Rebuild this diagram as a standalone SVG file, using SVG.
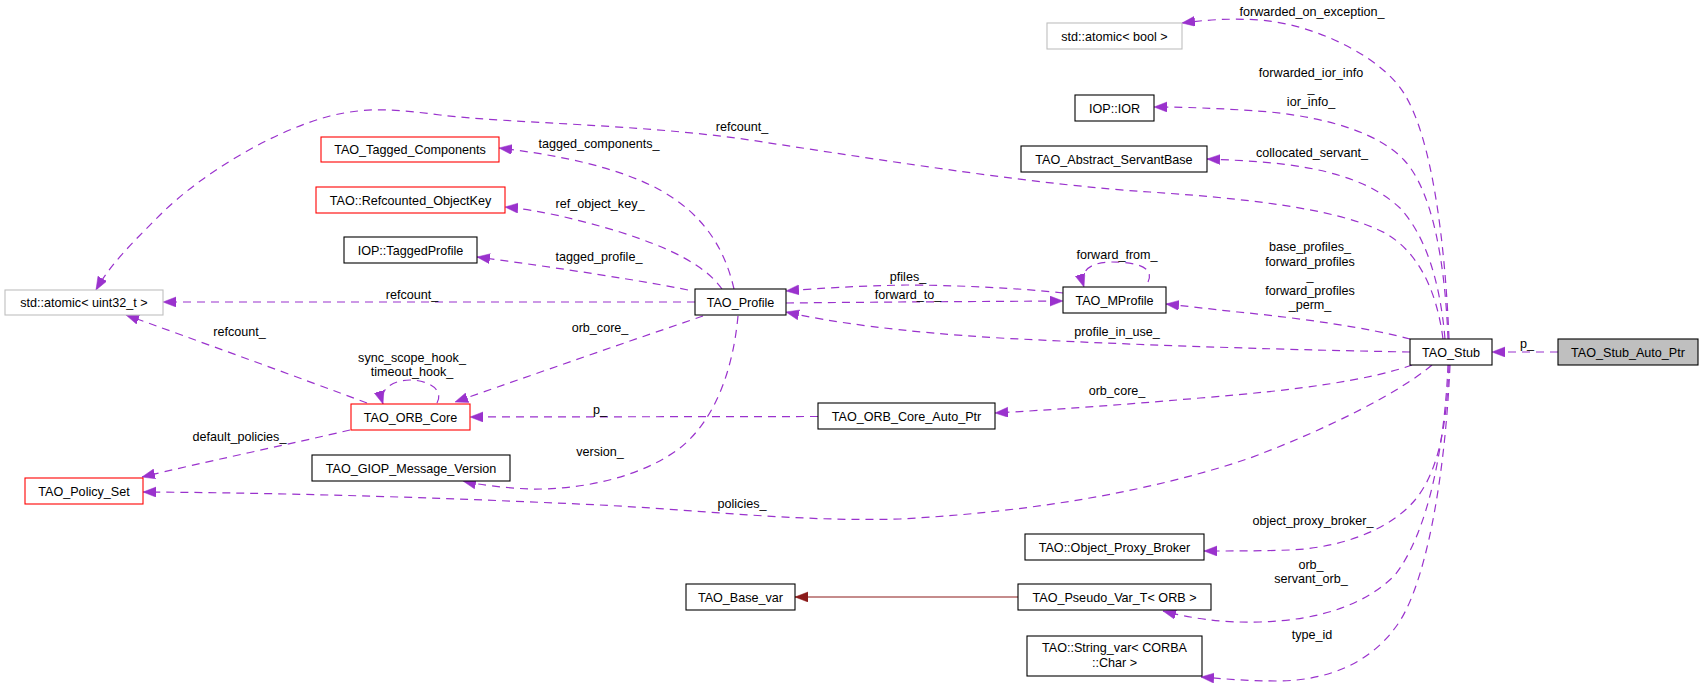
<svg xmlns="http://www.w3.org/2000/svg" width="1703" height="687" viewBox="0 0 1703 687">
<style>
text{font-family:"Liberation Sans",Arial,sans-serif;font-size:12.6px;fill:#000;text-anchor:middle}
.n rect{fill:#fff;stroke:#000;stroke-width:1.1}
.n.r rect{stroke:#ff0000}
.n.g rect{stroke:#bfbfbf}
.n.f rect{fill:#bfbfbf}
.e path{fill:none;stroke:#9a32cd;stroke-width:1.2;stroke-dasharray:8,6}
.e path.inh{stroke:#8b1a1a;stroke-dasharray:none}
.e path{marker-end:url(#ap)}
.e path.inh{marker-end:url(#ar)}
</style>
<defs>
<marker id="ap" markerUnits="userSpaceOnUse" markerWidth="14" markerHeight="11" refX="13" refY="5" orient="auto"><path d="M0,0 L13,5 L0,10 z" fill="#9a32cd" stroke="#9a32cd" stroke-width="0.5"/></marker>
<marker id="ar" markerUnits="userSpaceOnUse" markerWidth="14" markerHeight="11" refX="13" refY="5" orient="auto"><path d="M0,0 L13,5 L0,10 z" fill="#8b1a1a" stroke="#8b1a1a" stroke-width="0.5"/></marker>
</defs>
<rect width="1703" height="687" fill="#fff"/>
<g id="edges" class="e">
<path d="M1558,352 L1492,352"/>
<path d="M1449,339 C1445,240 1432,140 1405,95 C1385,60 1320,25 1260,20 C1230,18 1205,20 1182,23"/>
<path d="M1448,339 C1445,260 1432,190 1404,160 C1380,134 1330,118 1270,112 C1220,108 1180,107 1154,107"/>
<path d="M1445,339 C1440,280 1425,235 1400,208 C1375,185 1340,172 1290,165 C1260,161 1230,160 1207,159"/>
<path d="M1443,339 C1436,285 1415,250 1385,233 C1345,212 1270,200 1150,192 C1040,185 900,163 750,140 C640,124 520,124 440,115 C400,110 370,106 330,116 C270,132 200,175 160,215 C130,245 110,265 96,290"/>
<path d="M1410,339 C1370,328 1300,318 1238,312 C1210,309 1185,306 1166,304"/>
<path d="M1410,352 C1300,350 1150,346 1000,338 C900,332 830,322 786,312"/>
<path d="M1412,365 C1370,380 1300,390 1200,398 C1120,405 1050,410 995,413"/>
<path d="M1432,365 C1400,392 1330,428 1250,458 C1150,492 1030,512 900,519 C800,522 700,510 600,505 C450,498 300,493 143,492"/>
<path d="M1449,365 C1447,420 1440,470 1415,500 C1390,530 1340,548 1290,550 C1260,551 1230,551 1204,551"/>
<path d="M1448,365 C1445,440 1430,530 1395,575 C1365,605 1320,620 1260,622 C1220,623 1190,618 1163,611"/>
<path d="M1450,365 C1445,480 1425,590 1395,628 C1370,662 1330,680 1280,681 C1250,681 1225,679 1201,677"/>
<path class="inh" d="M1018,597 L795,597"/>
<path d="M818,416.5 L470,417"/>
<path d="M1148,282 C1156,265 1130,262 1112,262 C1095,262 1078,268 1084,287"/>
<path d="M1063,293 C1020,288 950,285 906,285 C860,286 820,288 786,291"/>
<path d="M786,303 C880,302 980,301.5 1063,301"/>
<path d="M734,289 C725,250 705,215 660,190 C620,168 560,155 499,148"/>
<path d="M722,289 C705,265 670,248 620,232 C580,220 540,210 505,207"/>
<path d="M688,290 C650,282 560,268 477,257"/>
<path d="M695,302 L163,302"/>
<path d="M703,316 C650,334 520,379 455,402"/>
<path d="M738,316 C733,370 715,420 680,448 C640,478 580,490 530,489 C505,488 480,485 463,481"/>
<path d="M437,403 C445,388 425,380 410,380 C395,380 378,388 383,404"/>
<path d="M367,403 C300,378 190,338 126,315"/>
<path d="M350,430 C290,444 200,463 142,477"/>
</g>
<g id="edge-labels">
<text x="1527" y="348">p_</text>
<text x="1312" y="16">forwarded_on_exception_</text>
<text x="1311" y="77">forwarded_ior_info</text>
<text x="1311" y="91.6">_</text>
<text x="1311" y="106.2">ior_info_</text>
<text x="1312" y="157">collocated_servant_</text>
<text x="742" y="131">refcount_</text>
<text x="1310" y="251">base_profiles_</text>
<text x="1310" y="265.6">forward_profiles</text>
<text x="1310" y="280.2">_</text>
<text x="1310" y="294.8">forward_profiles</text>
<text x="1310" y="309.4">_perm_</text>
<text x="1117" y="336">profile_in_use_</text>
<text x="1117" y="395">orb_core_</text>
<text x="742" y="508">policies_</text>
<text x="1313" y="525">object_proxy_broker_</text>
<text x="1311" y="568.5">orb_</text>
<text x="1311" y="583">servant_orb_</text>
<text x="1312" y="639">type_id</text>
<text x="600" y="414">p_</text>
<text x="1117" y="259">forward_from_</text>
<text x="908" y="281">pfiles_</text>
<text x="908" y="299">forward_to_</text>
<text x="599" y="148">tagged_components_</text>
<text x="600" y="208">ref_object_key_</text>
<text x="599" y="261">tagged_profile_</text>
<text x="412" y="299">refcount_</text>
<text x="600" y="332">orb_core_</text>
<text x="600" y="456">version_</text>
<text x="412" y="361.5">sync_scope_hook_</text>
<text x="412" y="376">timeout_hook_</text>
<text x="239.5" y="336">refcount_</text>
<text x="239.5" y="441">default_policies_</text>
</g>
<g id="n-atomic-uint32" class="n g"><rect x="5" y="290" width="158" height="25"/><text x="84" y="307">std::atomic&lt; uint32_t &gt;</text></g>
<g id="n-tagged-components" class="n r"><rect x="321" y="137" width="178" height="25"/><text x="410" y="154">TAO_Tagged_Components</text></g>
<g id="n-refcounted-objectkey" class="n r"><rect x="316" y="187" width="189" height="26"/><text x="410.5" y="204.5">TAO::Refcounted_ObjectKey</text></g>
<g id="n-taggedprofile" class="n"><rect x="344" y="237" width="133" height="26"/><text x="410.5" y="254.5">IOP::TaggedProfile</text></g>
<g id="n-atomic-bool" class="n g"><rect x="1047" y="23" width="135" height="26"/><text x="1114.5" y="40.5">std::atomic&lt; bool &gt;</text></g>
<g id="n-ior" class="n"><rect x="1075" y="95" width="79" height="26"/><text x="1114.5" y="112.5">IOP::IOR</text></g>
<g id="n-abstract-servantbase" class="n"><rect x="1021" y="146" width="186" height="26"/><text x="1114" y="163.5">TAO_Abstract_ServantBase</text></g>
<g id="n-profile" class="n"><rect x="695" y="289" width="91" height="26"/><text x="740.5" y="306.5">TAO_Profile</text></g>
<g id="n-mprofile" class="n"><rect x="1063" y="287" width="103" height="26"/><text x="1114.5" y="304.5">TAO_MProfile</text></g>
<g id="n-stub" class="n"><rect x="1410" y="339" width="82" height="26"/><text x="1451" y="356.5">TAO_Stub</text></g>
<g id="n-stub-auto-ptr" class="n f"><rect x="1558" y="339" width="140" height="26"/><text x="1628" y="356.5">TAO_Stub_Auto_Ptr</text></g>
<g id="n-orb-core" class="n r"><rect x="351" y="404" width="119" height="26"/><text x="410.5" y="421.5">TAO_ORB_Core</text></g>
<g id="n-policy-set" class="n r"><rect x="25" y="478" width="118" height="26"/><text x="84" y="495.5">TAO_Policy_Set</text></g>
<g id="n-giop-version" class="n"><rect x="312" y="455" width="198" height="26"/><text x="411" y="472.5">TAO_GIOP_Message_Version</text></g>
<g id="n-orb-core-auto-ptr" class="n"><rect x="818" y="403" width="177" height="26"/><text x="906.5" y="420.5">TAO_ORB_Core_Auto_Ptr</text></g>
<g id="n-object-proxy-broker" class="n"><rect x="1025" y="534" width="179" height="26"/><text x="1114.5" y="551.5">TAO::Object_Proxy_Broker</text></g>
<g id="n-base-var" class="n"><rect x="686" y="584" width="109" height="26"/><text x="740.5" y="601.5">TAO_Base_var</text></g>
<g id="n-pseudo-var" class="n"><rect x="1018" y="584" width="193" height="26"/><text x="1114.5" y="601.5">TAO_Pseudo_Var_T&lt; ORB &gt;</text></g>
<g id="n-string-var" class="n"><rect x="1027" y="636" width="175" height="40"/><text x="1114.5" y="652">TAO::String_var&lt; CORBA</text><text x="1114.5" y="667">::Char &gt;</text></g>
</svg>
